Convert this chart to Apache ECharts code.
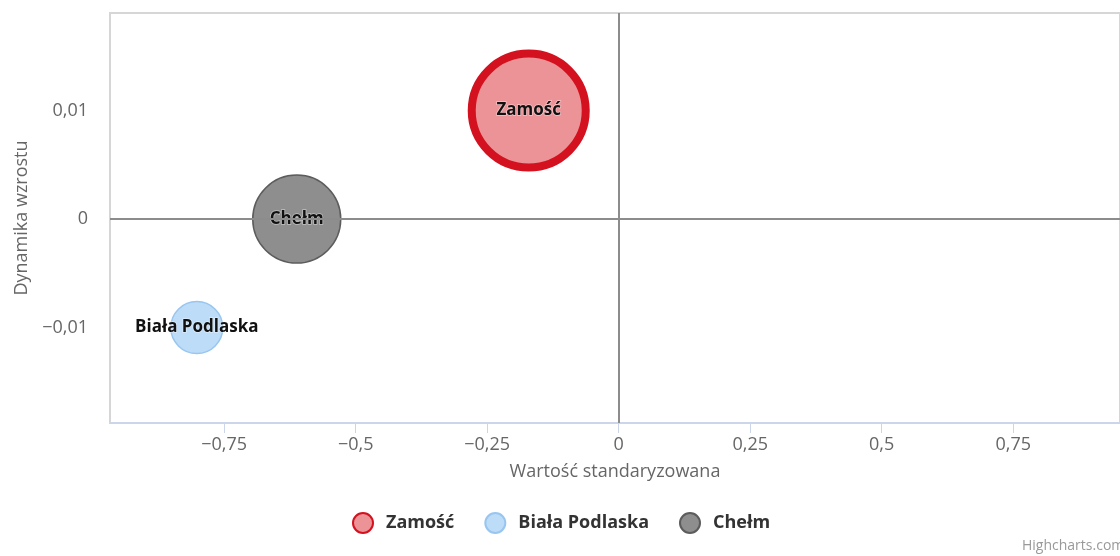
<!DOCTYPE html>
<html>
<head>
<meta charset="utf-8">
<script src="https://cdn.jsdelivr.net/npm/echarts@6/dist/echarts.min.js"></script>
<style>
  html, body { margin: 0; padding: 0; background: #fff; }
  #box { width: 1120px; height: 556px; }
</style>
</head>
<body>
<div id="box"></div>
<script>
// dane
var names = ['Zamość', 'Biała Podlaska', 'Chełm'];
var xValues = [-0.171, -0.802, -0.612];     // wartość standaryzowana
var yValues = [0.01, -0.01, 0];             // dynamika wzrostu
var bubbleSize = [114, 52, 88];             // wielkość bąbla
var xTicks = [-0.75, -0.5, -0.25, 0, 0.25, 0.5, 0.75];
var yTicks = [-0.01, 0, 0.01];

var fills = ['#ec9397', '#bddcf8', '#8e8e8e'];
var borders = ['#d4111f', '#98c6f0', '#5c5c5c'];
var borderW = [8, 1.5, 1.5];

function fmt(v) {
  return String(v).replace('.', ',').replace('-', '\u2212');
}

var font = '"Open Sans", "Noto Sans", sans-serif';

var myChart = echarts.init(document.getElementById('box'));

var series = names.map(function (n, i) {
  return {
    name: n,
    type: 'scatter',
    data: [[xValues[i], yValues[i], bubbleSize[i]]],
    symbolSize: function (v) { return v[2]; },
    itemStyle: { color: fills[i], borderColor: borders[i], borderWidth: borderW[i], opacity: 1 },
    label: {
      show: true,
      position: 'inside',
      formatter: n,
      color: '#111',
      fontFamily: font,
      fontWeight: 'bold',
      fontSize: 17,
      textBorderColor: 'rgba(255,255,255,0.45)',
      textBorderWidth: 1.5
    },
    z: 3
  };
});

// linie zerowe
series.push({
  type: 'scatter',
  data: [],
  silent: true,
  markLine: {
    silent: true,
    symbol: 'none',
    label: { show: false },
    lineStyle: { color: '#8c8c8c', width: 2, type: 'solid' },
    data: [{ xAxis: 0 }, { yAxis: 0 }]
  },
  z: 1
});

var option = {
  animation: false,
  grid: {
    left: 110, right: 0, top: 13, bottom: 133,
    show: true, borderColor: '#d6d6d6', borderWidth: 2
  },
  legend: {
    left: 347, top: 507,
    icon: 'circle',
    itemWidth: 20, itemHeight: 20,
    itemGap: 30,
    data: names,
    textStyle: { color: '#333', fontSize: 18, fontWeight: 'bold', fontFamily: font, padding: [0, 0, 0, 8] }
  },
  xAxis: {
    type: 'value',
    min: -0.967, max: 0.953,
    name: 'Wartość standaryzowana',
    nameLocation: 'middle',
    nameGap: 40,
    nameTextStyle: { color: '#666', fontSize: 18, fontFamily: font },
    axisLine: { show: true, onZero: false, lineStyle: { color: '#ccd6eb', width: 2 } },
    axisTick: { show: true, length: 10, customValues: xTicks, lineStyle: { color: '#ccd6eb' } },
    axisLabel: { customValues: xTicks, formatter: fmt, color: '#666', fontSize: 18, fontFamily: font, margin: 13 },
    splitLine: { show: false }
  },
  yAxis: {
    type: 'value',
    min: -0.0188, max: 0.019,
    name: 'Dynamika wzrostu',
    nameLocation: 'middle',
    nameGap: 79,
    nameTextStyle: { color: '#666', fontSize: 18, fontFamily: font },
    axisLine: { show: false },
    axisTick: { show: false, customValues: yTicks },
    axisLabel: { customValues: yTicks, formatter: fmt, color: '#666', fontSize: 18, fontFamily: font, margin: 22 },
    splitLine: { show: false }
  },
  graphic: [{
    type: 'text', left: 1022, top: 539,
    style: { text: 'Highcharts.com', fill: '#999', fontSize: 14, fontFamily: font }
  }],
  series: series
};

myChart.setOption(option);
</script>
</body>
</html>
